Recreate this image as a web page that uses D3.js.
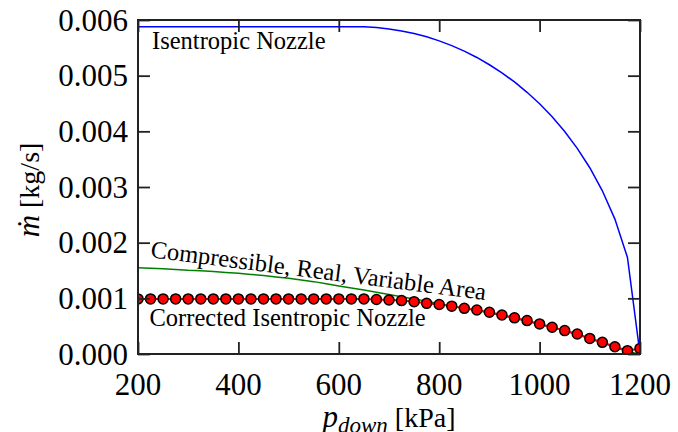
<!DOCTYPE html>
<html>
  <head>
    <meta charset="utf-8">
    <title>Nozzle mass flow</title>
    <style>
      body { margin: 0; background: white; }
      svg { display: block; }
      .note { font-size: 24.5px; }
      .axis-label { font-size: 28px; }
    </style>
  </head>
  <body>
  <svg id="chart"></svg>
  <script src="https://d3js.org/d3.v7.min.js"></script>
  <script>

  // downstream pressure [kPa]
  var pressure = [200, 225, 250, 275, 300, 325, 350, 375, 400, 425, 450, 475, 500, 525, 550, 575,
    600, 625, 650, 675, 700, 725, 750, 775, 800, 825, 850, 875, 900, 925, 950, 975, 1000, 1025,
    1050, 1075, 1100, 1125, 1150, 1175, 1200];

  // mass flow [kg/s]
  var isentropic = [0.00588, 0.00588, 0.00588, 0.00588, 0.00588, 0.00588, 0.00588, 0.00588, 0.00588,
    0.00588, 0.00588, 0.00588, 0.00588, 0.00588, 0.00588, 0.00588, 0.00588, 0.00588, 0.005878,
    0.005865, 0.00584, 0.005804, 0.005758, 0.005698, 0.005625, 0.00554, 0.005441, 0.005327,
    0.005196, 0.005049, 0.004887, 0.004701, 0.004495, 0.004261, 0.003997, 0.003695, 0.003346,
    0.002932, 0.002423, 0.001735, 0.0];

  var realArea = [0.00155, 0.00154, 0.00153, 0.00152, 0.001505, 0.001495, 0.00148, 0.001465, 0.00145,
    0.00143, 0.00141, 0.001385, 0.00136, 0.00133, 0.0013, 0.00126, 0.00122, 0.001185, 0.00115,
    0.00111, 0.00107, 0.00103, 0.00099, 0.00095, 0.000905, 0.00086, 0.000815, 0.00078, 0.00074,
    0.00069, 0.00064, 0.00059, 0.000535, 0.000475, 0.000415, 0.00035, 0.000275, 0.0002, 0.000125,
    0.000045, 0.0];

  var corrected = [0.00099, 0.00099, 0.00099, 0.00099, 0.00099, 0.00099, 0.00099, 0.00099, 0.00099,
    0.00099, 0.00099, 0.00099, 0.00099, 0.00099, 0.00099, 0.00099, 0.00099, 0.00099, 0.00099,
    0.00098, 0.00097, 0.00096, 0.00094, 0.00091, 0.00089, 0.00086, 0.00082, 0.00079, 0.00075,
    0.0007, 0.00065, 0.0006, 0.00054, 0.00048, 0.00042, 0.00036, 0.00028, 0.00021, 0.00013,
    0.00006, 0.0001];

  var xTicks = [200, 400, 600, 800, 1000, 1200];
  var yTicks = [0, 0.001, 0.002, 0.003, 0.004, 0.005, 0.006];
  var noteTexts = ["Isentropic Nozzle", "Compressible, Real, Variable Area", "Corrected Isentropic Nozzle"];

  var serif = "Liberation Serif";

  var W = 678, H = 432;
  var margin = {top: 20, right: 38, bottom: 78, left: 138};
  var width = W - margin.left - margin.right;
  var height = H - margin.top - margin.bottom;

  var svg = d3.select("#chart").attr("width", W).attr("height", H)
    .attr("font-family", serif);
  var g = svg.append("g").attr("transform", "translate(" + margin.left + "," + margin.top + ")");

  var x = d3.scaleLinear().domain([200, 1200]).range([0, width]);
  var y = d3.scaleLinear().domain([0, 0.006]).range([height, 0]);

  svg.append("clipPath").attr("id", "plot-clip")
    .append("rect").attr("x", 0).attr("y", 0).attr("width", width).attr("height", height);

  var plot = g.append("g").attr("clip-path", "url(#plot-clip)");

  var line = function(vals) {
    return d3.line()
      .x(function(d, i) { return x(pressure[i]); })
      .y(function(d) { return y(d); })(vals);
  };

  plot.append("path").attr("d", line(isentropic))
    .attr("fill", "none").attr("stroke", "#0000ff").attr("stroke-width", 1.5);
  plot.append("path").attr("d", line(realArea))
    .attr("fill", "none").attr("stroke", "#008000").attr("stroke-width", 1.5);
  plot.append("path").attr("d", line(corrected))
    .attr("fill", "none").attr("stroke", "#ff0000").attr("stroke-width", 2);

  plot.selectAll("circle.dot")
    .data(corrected)
    .enter().append("circle")
    .attr("class", "dot")
    .attr("cx", function(d, i) { return x(pressure[i]); })
    .attr("cy", function(d) { return y(d); })
    .attr("r", 5)
    .attr("fill", "#ff0000")
    .attr("stroke", "black")
    .attr("stroke-width", 1.5);

  // inward ticks on all four sides, matplotlib style (labels drawn separately)
  var tickLen = 12;
  function noDomain(a) { a.select(".domain").remove(); }

  g.append("g").attr("transform", "translate(0," + height + ")")
    .call(d3.axisBottom(x).tickValues(xTicks).tickSize(-tickLen).tickFormat("")).call(noDomain);
  g.append("g")
    .call(d3.axisTop(x).tickValues(xTicks).tickSize(-tickLen).tickFormat("")).call(noDomain);
  g.append("g")
    .call(d3.axisLeft(y).tickValues(yTicks).tickSize(-tickLen).tickFormat("")).call(noDomain);
  g.append("g").attr("transform", "translate(" + width + ",0)")
    .call(d3.axisRight(y).tickValues(yTicks).tickSize(-tickLen).tickFormat("")).call(noDomain);

  g.selectAll(".tick line").attr("stroke", "#222").attr("stroke-width", 1.8);

  g.append("rect")
    .attr("width", width).attr("height", height)
    .attr("fill", "none").attr("stroke", "#222").attr("stroke-width", 2);

  // tick labels
  var fmtY = d3.format(".3f");
  g.append("g").selectAll("text")
    .data(xTicks).enter().append("text")
    .attr("x", function(d) { return x(d); })
    .attr("y", height + 41)
    .attr("text-anchor", "middle")
    .attr("font-family", serif).attr("font-size", 31)
    .text(function(d) { return d; });
  g.append("g").selectAll("text")
    .data(yTicks).enter().append("text")
    .attr("x", -10)
    .attr("y", function(d) { return y(d); })
    .attr("dy", "0.34em")
    .attr("text-anchor", "end")
    .attr("font-family", serif).attr("font-size", 31)
    .text(function(d) { return fmtY(d); });

  // annotations
  g.append("text").attr("class", "note")
    .attr("x", x(228)).attr("y", y(0.00548))
    .text(noteTexts[0]);
  g.append("text").attr("class", "note")
    .attr("transform", "translate(" + x(224) + "," + y(0.00174) + ") rotate(7.3)")
    .text(noteTexts[1]);
  g.append("text").attr("class", "note")
    .attr("x", x(223)).attr("y", y(0.0005))
    .text(noteTexts[2]);

  // axis labels
  var yl = svg.append("text").attr("class", "axis-label")
    .attr("transform", "translate(39,190) rotate(-90)")
    .attr("text-anchor", "middle");
  yl.append("tspan").attr("font-style", "italic").attr("font-size", "31px").text("ṁ");
  yl.append("tspan").text(" [kg/s]");

  var xl = svg.append("text").attr("class", "axis-label")
    .attr("x", margin.left + width / 2).attr("y", 427)
    .attr("text-anchor", "middle");
  xl.append("tspan").attr("font-style", "italic").attr("font-size", "31px").text("p");
  xl.append("tspan").attr("font-style", "italic").attr("font-size", "23px").attr("dy", 6).text("down");
  xl.append("tspan").attr("dy", -6).text(" [kPa]");

  </script>
  </body>
</html>
